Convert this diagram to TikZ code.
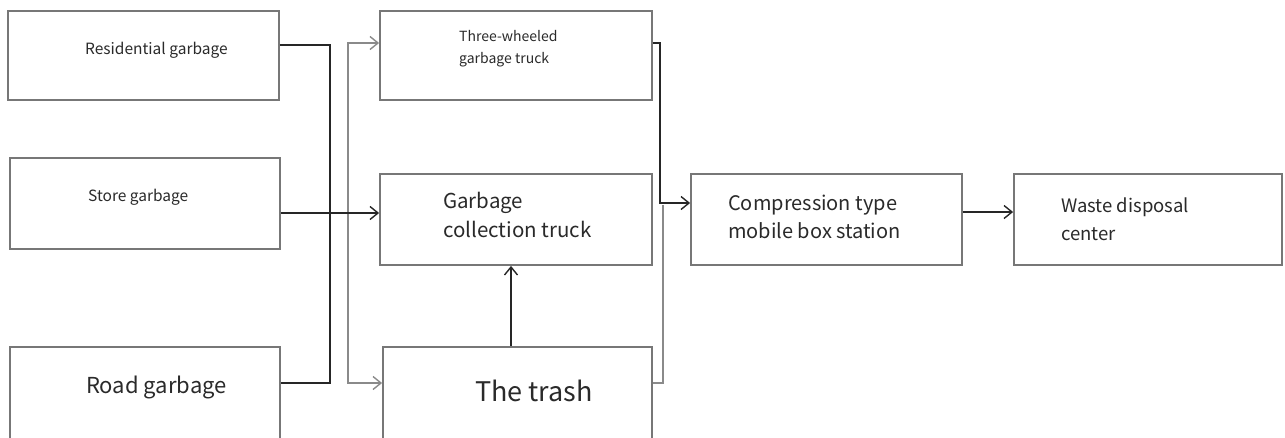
\documentclass[tikz,border=0pt]{standalone}
\usepackage{fontspec}
\setmainfont{Noto Sans CJK SC}
\usetikzlibrary{arrows.meta}
\definecolor{boxgray}{HTML}{777777}
\definecolor{linegray}{HTML}{8A8A8A}
\definecolor{txt}{HTML}{2A2A2A}
\begin{document}
\begin{tikzpicture}[x=1pt,y=-1pt,
  box/.style={draw=boxgray,line width=1.8pt,rectangle,inner sep=0pt,fill=white},
  lbl/.style={text=txt,inner sep=0pt,align=left,anchor=west},
  conn/.style={draw=black!85,line width=1.5pt},
  gconn/.style={draw=linegray,line width=2pt},
  tip/.style={-{Straight Barb[length=8pt,width=13pt,line width=1.4pt]}}
]
\useasboundingbox (0,0) rectangle (1285,437);
\clip (0,0) rectangle (1285,437);
% boxes
\node[box,minimum width=271pt,minimum height=89pt] (res) at (143.5,55.5) {};
\node[box,minimum width=270pt,minimum height=91pt] (store) at (145,203.5) {};
\node[box,minimum width=270pt,minimum height=113pt] (road) at (145,403.5) {};
\node[box,minimum width=272pt,minimum height=89pt] (three) at (516,55.5) {};
\node[box,minimum width=272pt,minimum height=91pt] (gct) at (516,219.5) {};
\node[box,minimum width=269pt,minimum height=113pt] (trash) at (517.5,403.5) {};
\node[box,minimum width=271pt,minimum height=91pt] (comp) at (826.5,219.5) {};
\node[box,minimum width=268pt,minimum height=91pt] (waste) at (1148,219.5) {};
% labels
\node[lbl,font=\fontsize{15.5}{18}\selectfont] (tres) at (85,50) {Residential garbage};
\node[lbl,font=\fontsize{15.5}{18}\selectfont] (tstore) at (88,197) {Store garbage};
\node[lbl,font=\fontsize{22}{26}\selectfont] (troad) at (86,387) {Road garbage};
\node[lbl,font=\fontsize{14}{22}\selectfont] (tthree) at (459,49) {Three-wheeled\\garbage truck};
\node[lbl,font=\fontsize{20.5}{29}\selectfont] (tgct) at (443,215) {Garbage\\collection truck};
\node[lbl,font=\fontsize{27}{32}\selectfont] (ttrash) at (475,391) {The trash};
\node[lbl,font=\fontsize{20}{28}\selectfont] (tcomp) at (728,217) {Compression type\\mobile box station};
\node[lbl,font=\fontsize{18.5}{28}\selectfont] (twaste) at (1061,219) {Waste disposal\\center};
% junction coordinates
\coordinate (j1) at (330,383);
\coordinate (v2t) at (348,43);
\coordinate (v2b) at (348,383);
\coordinate (sy) at (0,213);
\coordinate (j3) at (660,43);
\coordinate (j3b) at (660,203);
\coordinate (j4) at (663,205);
\coordinate (tx) at (511,300);
\coordinate (cy) at (0,212);
% connectors
\draw[conn] ([yshift=10.5pt]res.east) -| (j1) -- (road.east |- j1);
\draw[gconn,tip] (v2b) |- (three.west |- v2t);
\draw[gconn,tip] (v2t) |- (trash.west |- v2b);
\draw[conn,tip] (store.east |- sy) -- (gct.west |- sy);
\draw[conn,tip] (three.east |- j3) -- (j3) -- (j3b) -- (comp.west |- j3b);
\draw[gconn] (trash.east |- j1) -| (j4);
\draw[conn,tip] (trash.north -| tx) -- (gct.south -| tx);
\draw[conn,tip] (comp.east |- cy) -- (waste.west |- cy);
\end{tikzpicture}
\end{document}
